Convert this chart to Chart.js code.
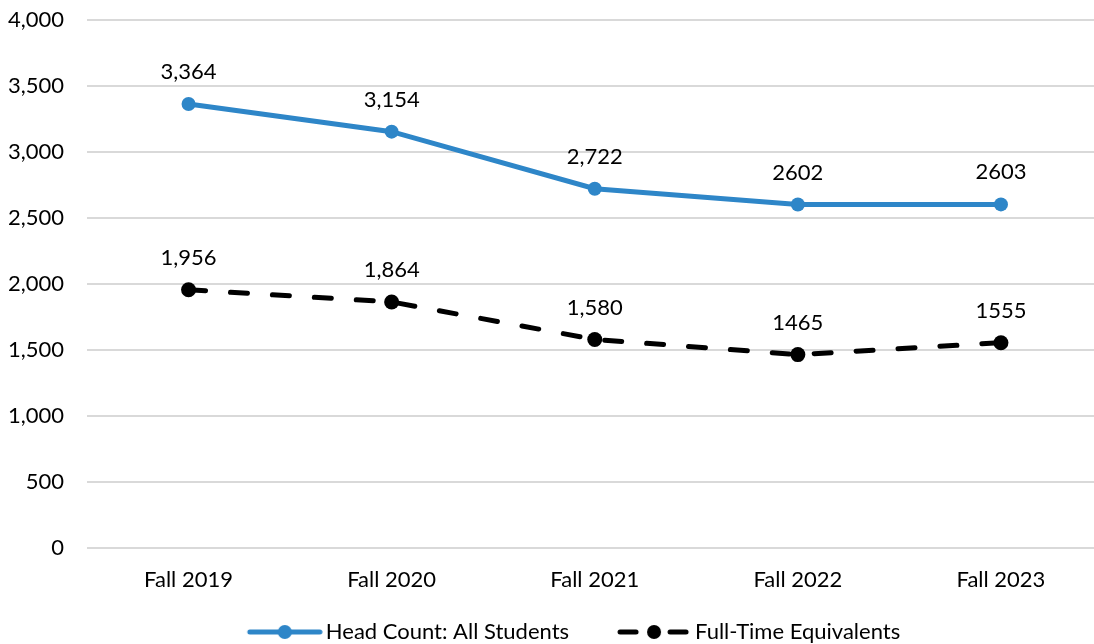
<!DOCTYPE html>
<html>
<head>
<meta charset="utf-8">
<script src="https://cdn.jsdelivr.net/npm/chart.js@4/dist/chart.umd.min.js"></script>
<style>
  html, body { margin: 0; padding: 0; background: #fff; overflow: hidden; }
  #wrap { width: 1110px; height: 644px; }
</style>
</head>
<body>
<div id="wrap"><canvas id="grafico" width="1110" height="644"></canvas></div>
<script>
var categorias = ['Fall 2019', 'Fall 2020', 'Fall 2021', 'Fall 2022', 'Fall 2023'];
var headCount = [3364, 3154, 2722, 2602, 2603];
var headCountLabels = ['3,364', '3,154', '2,722', '2602', '2603'];
var fte = [1956, 1864, 1580, 1465, 1555];
var fteLabels = ['1,956', '1,864', '1,580', '1465', '1555'];
var yTicks = [0, 500, 1000, 1500, 2000, 2500, 3000, 3500, 4000];

var azul = '#2e86c8';
var preto = '#000000';
var fonte = "Lato, 'Noto Sans', sans-serif";

// legend icon: blank space on the left, then line + dot
var legendaIcone = function (cor, tracejado) {
    var m = 45;
    var c = document.createElement('canvas');
    c.width = 76 + m; c.height = 16;
    var ctx = c.getContext('2d');
    ctx.strokeStyle = cor;
    ctx.fillStyle = cor;
    ctx.lineWidth = 5;
    ctx.lineCap = 'round';
    if (tracejado) {
        ctx.beginPath(); ctx.moveTo(m + 4, 8); ctx.lineTo(m + 20, 8); ctx.stroke();
        ctx.beginPath(); ctx.moveTo(m + 54, 8); ctx.lineTo(m + 70, 8); ctx.stroke();
    } else {
        ctx.beginPath(); ctx.moveTo(m + 3, 8); ctx.lineTo(m + 73, 8); ctx.stroke();
    }
    ctx.beginPath(); ctx.arc(m + 38, 8, 7, 0, Math.PI * 2); ctx.fill();
    return c;
};

var rotulos = {
    id: 'rotulos',
    afterDatasetsDraw: function (chart) {
        var ctx = chart.ctx;
        ctx.save();
        ctx.font = '22px ' + fonte;
        ctx.fillStyle = '#000';
        ctx.textAlign = 'center';
        ctx.textBaseline = 'middle';
        chart.data.datasets.forEach(function (ds, i) {
            var meta = chart.getDatasetMeta(i);
            meta.data.forEach(function (pt, j) {
                ctx.fillText(ds.rotulos[j], pt.x, pt.y - 32);
            });
        });
        ctx.restore();
    }
};

var grafico = document.getElementById('grafico').getContext('2d');
var chart = new Chart(grafico, {
    type: 'line',
    data: {
        labels: categorias,
        datasets: [
            {
                label: 'Head Count: All Students',
                data: headCount,
                rotulos: headCountLabels,
                borderColor: azul,
                backgroundColor: azul,
                borderWidth: 5,
                pointRadius: 7,
                pointHoverRadius: 7,
                pointBorderWidth: 0,
                tension: 0,
                fill: false
            },
            {
                label: 'Full-Time Equivalents',
                data: fte,
                rotulos: fteLabels,
                borderColor: preto,
                backgroundColor: preto,
                borderWidth: 5,
                borderDash: [17, 25],
                borderCapStyle: 'round',
                pointRadius: 7.5,
                pointHoverRadius: 7.5,
                pointBorderWidth: 0,
                tension: 0,
                fill: false
            }
        ]
    },
    options: {
        responsive: false,
        animation: false,
        events: [],
        layout: { padding: { top: 20, right: 0, left: 0, bottom: -9 } },
        scales: {
            x: {
                offset: true,
                afterFit: function (s) { s.height = 63; },
                grid: { display: false, drawTicks: false },
                border: { display: false },
                ticks: { color: '#000', font: { family: fonte, size: 22 }, padding: 19 }
            },
            y: {
                min: 0,
                max: 4000,
                afterBuildTicks: function (s) { s.ticks = yTicks.map(function (v) { return { value: v }; }); },
                afterFit: function (s) { s.width = 87; },
                grid: { color: '#d9d9d9', lineWidth: 2, drawTicks: true, tickLength: 23, tickColor: 'rgba(0,0,0,0)' },
                border: { display: false },
                ticks: {
                    color: '#000',
                    font: { family: fonte, size: 22 },
                    padding: 0,
                    callback: function (v) { return v.toLocaleString('en-US'); }
                }
            }
        },
        plugins: {
            tooltip: { enabled: false },
            legend: {
                position: 'bottom',
                labels: {
                    color: '#000',
                    font: { family: fonte, size: 22, lineHeight: 1 },
                    usePointStyle: true,
                    pointStyleWidth: 105,
                    padding: 10,
                    generateLabels: function (c) {
                        return c.data.datasets.map(function (ds, i) {
                            return {
                                text: ds.label,
                                pointStyle: legendaIcone(ds.borderColor, i === 1),
                                fillStyle: ds.borderColor,
                                strokeStyle: ds.borderColor,
                                fontColor: '#000',
                                lineWidth: 0,
                                hidden: false,
                                datasetIndex: i
                            };
                        });
                    }
                }
            }
        }
    },
    plugins: [rotulos]
});
</script>
</body>
</html>
